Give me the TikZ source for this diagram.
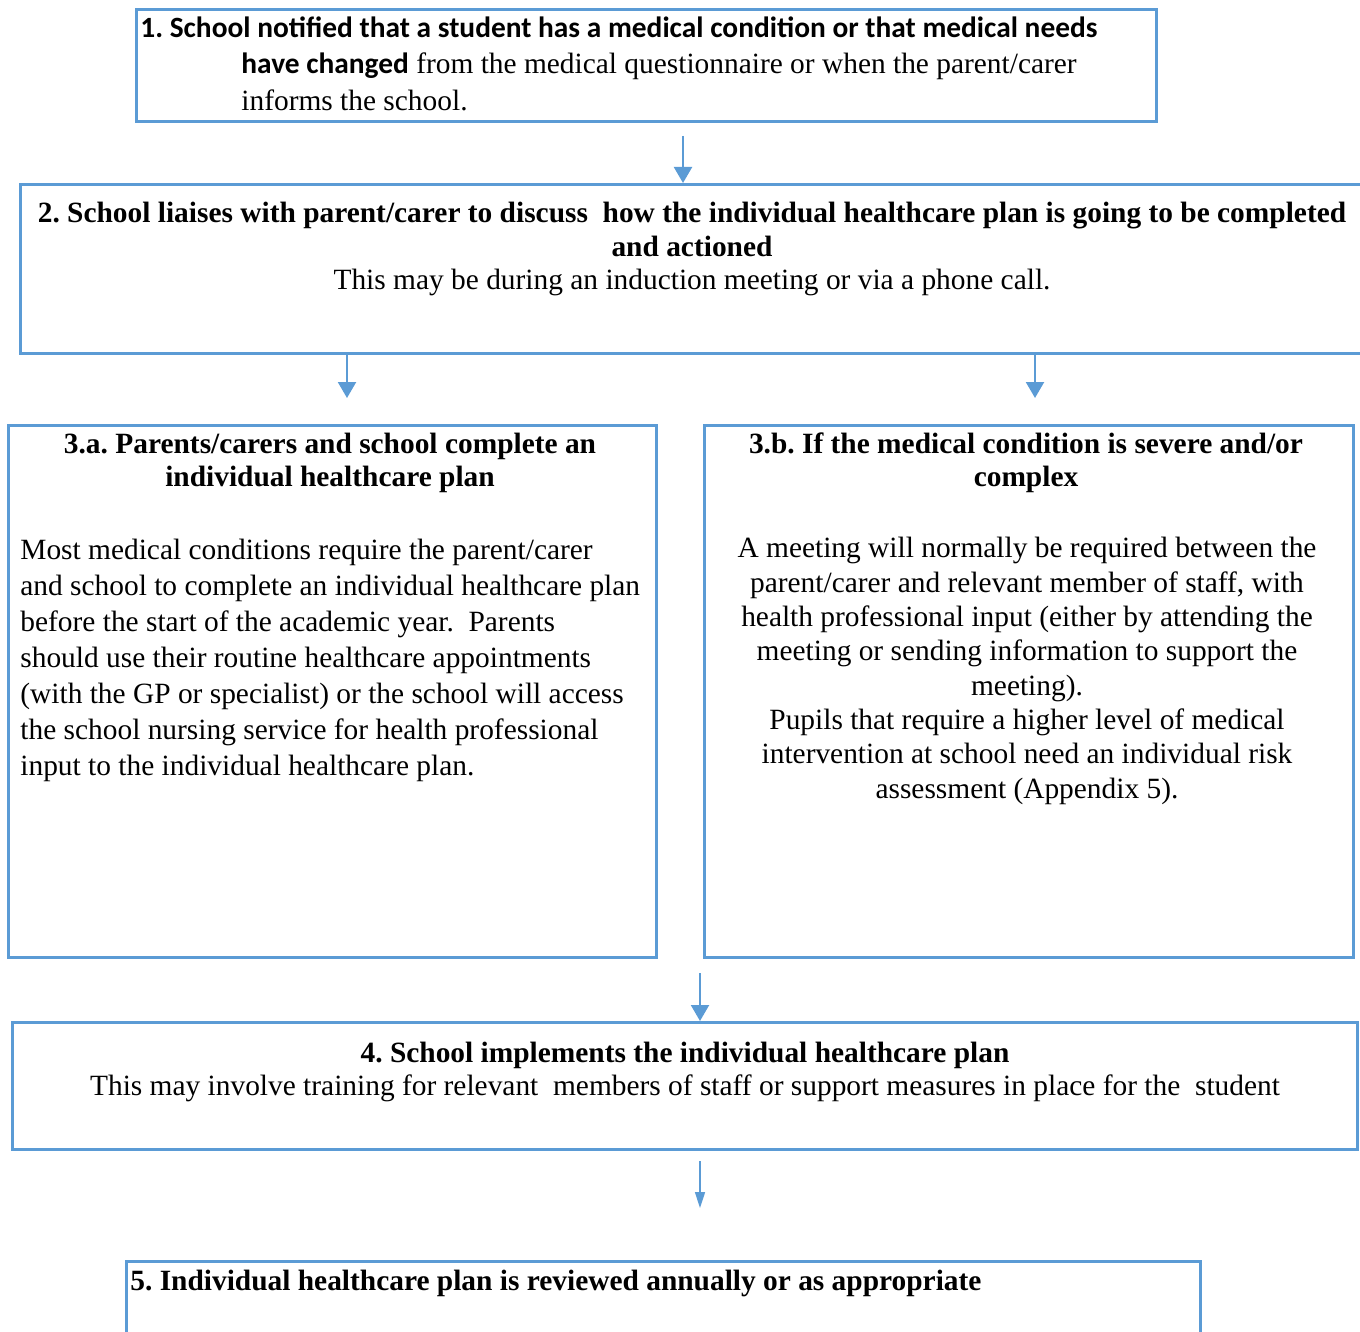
\documentclass[tikz,border=0pt]{standalone}
\usepackage{fontspec}
\setmainfont{Liberation Serif}
\newfontfamily\calibri{Carlito}
\usetikzlibrary{positioning,arrows.meta,calc}
\definecolor{edge}{HTML}{5B9BD5}
\frenchspacing
\tikzset{
  box/.style={draw=edge,line width=1.4pt,inner sep=0pt,anchor=north west},
  txt/.style={inner sep=0pt,font=\fontsize{14.7}{18}\selectfont},
  arr/.style={-{Triangle[width=9pt,length=8pt]},line width=1.1pt,draw=edge},
  thin/.style={arr,-{Triangle[width=5pt,length=8pt]},line width=0.8pt},
}
\begin{document}
\begin{tikzpicture}[x=0.5pt,y=-0.5pt]
\useasboundingbox (0,0) rectangle (1360,1332);
\clip (0,0) rectangle (1360,1332);
% boxes
\node[box,minimum width=510pt,minimum height=56pt] (b1) at (135,8) {};
\node[box,minimum width=673.5pt,minimum height=84.5pt] (b2) at (19,183) {};
\node[box,minimum width=324pt,minimum height=266pt] (b3a) at (7,424) {};
\node[box,minimum width=324.5pt,minimum height=266pt] (b3b) at (703,424) {};
\node[box,minimum width=672.5pt,minimum height=63.5pt] (b4) at (11,1021) {};
\node[box,minimum width=537pt,minimum height=42.5pt] (b5) at (125,1260) {};
% texts (anchored at the baseline of the last line)
\node[txt,anchor=base west,font=\calibri\bfseries\fontsize{14.7}{18}\selectfont] (t1) at (140,38)
  {1. School notified that a student has a medical condition or that medical needs};
\node[txt,anchor=base west,align=left,font=\fontsize{14.7}{18.5}\selectfont] (t1b) at (241,111)
  {{\calibri\bfseries have changed} from the medical questionnaire or when the parent/carer\\informs the school.};
\node[txt,anchor=base,align=center,font=\fontsize{14.7}{16.75}\selectfont] (t2) at (692,290)
  {\textbf{2. School liaises with parent/carer to discuss \ how the individual healthcare plan is going to be completed}\\
   \textbf{and actioned}\\This may be during an induction meeting or via a phone call.};
\node[txt,anchor=base,align=center,font=\fontsize{14.7}{16.5}\selectfont] (t3a) at (330,486)
  {\textbf{3.a. Parents/carers and school complete an}\\\textbf{individual healthcare plan}};
\node[txt,anchor=base west,align=left] (t3ab) at (20,775)
  {Most medical conditions require the parent/carer\\
   and school to complete an individual healthcare plan\\
   before the start of the academic year. \ Parents\\
   should use their routine healthcare appointments\\
   (with the GP or specialist) or the school will access\\
   the school nursing service for health professional\\
   input to the individual healthcare plan.};
\node[txt,anchor=base,align=center,font=\fontsize{14.7}{16.5}\selectfont] (t3b) at (1026,486)
  {\textbf{3.b. If the medical condition is severe and/or}\\\textbf{complex}};
\node[txt,anchor=base,align=center,font=\fontsize{14.7}{17.15}\selectfont] (t3bb) at (1027,798)
  {A meeting will normally be required between the\\
   parent/carer and relevant member of staff, with\\
   health professional input (either by attending the\\
   meeting or sending information to support the\\
   meeting).\\
   Pupils that require a higher level of medical\\
   intervention at school need an individual risk\\
   assessment (Appendix 5).};
\node[txt,anchor=base,align=center,font=\fontsize{14.7}{16.5}\selectfont] (t4) at (685,1095)
  {\textbf{4. School implements the individual healthcare plan}\\
   This may involve training for relevant \ members of staff or support measures in place for the \ student};
\node[txt,anchor=base west,font=\bfseries\fontsize{14.7}{18}\selectfont] (t5) at (130,1290)
  {5. Individual healthcare plan is reviewed annually or as appropriate};
% arrows
\coordinate (a1) at (683,136);
\coordinate (a2l) at (347,398);
\coordinate (a2r) at (1035,398);
\coordinate (a3) at (700,973);
\coordinate (a4) at (700,1161);
\coordinate (a4e) at (700,1208);
\draw[arr] (a1) -- (a1 |- b2.north);
\draw[arr] (a2l |- b2.south) -- (a2l);
\draw[arr] (a2r |- b2.south) -- (a2r);
\draw[arr] (a3) -- (a3 |- b4.north);
\draw[thin] (a4) -- (a4e);
\end{tikzpicture}
\end{document}
